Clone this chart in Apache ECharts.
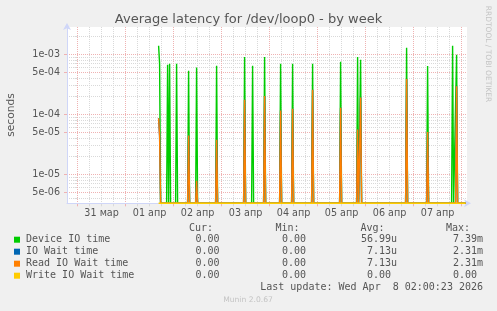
<!DOCTYPE html>
<html><head><meta charset="utf-8">
<script src="https://cdn.jsdelivr.net/npm/echarts@6/dist/echarts.min.js"></script>
<style>html,body{margin:0;padding:0;background:#f0f0f0}#c{width:497px;height:311px}</style>
</head><body><div id="c"></div>
<script>
// ---- data (hours since 31 Mar 00:00, 30-min samples) ----
const sampleHours = [40.5,41,41.5, 44.5,45,45.5,46,46.5, 49,49.5,50, 55,55.5,56, 59,59.5,60, 69,69.5,70,
  83,83.5,84, 87,87.5,88, 93,93.5,94, 101,101.5,102, 107,107.5,108, 117,117.5,118, 131,131.5,132,
  139.5,140,140.5,141,141.5,142, 164,164.5,165, 174.5,175,175.5, 187,187.5,188, 189,189.5,190, 194];
const deviceIOTime = [1.37e-3,6.9e-4,0, 0,6.6e-4,0,6.9e-4,0, 0,6.9e-4,0, 0,5.27e-4,0, 0,5.98e-4,0, 0,6.38e-4,0,
  0,8.9e-4,0, 0,6.38e-4,0, 0,8.9e-4,0, 0,6.9e-4,0, 0,6.9e-4,0, 0,6.9e-4,0, 0,7.44e-4,0,
  0,8.9e-4,0,0,8.0e-4,0, 0,1.27e-3,0, 0,6.3e-4,0, 0,1.37e-3,0, 0,9.7e-4,0, 0];
const readIOWaitTime = [8.5e-5,4.3e-5,0, 0,0,0,0,0, 0,0,0, 0,4.4e-5,0, 0,7.7e-6,0, 0,3.74e-5,0,
  0,1.73e-4,0, 0,0,0, 0,2.0e-4,0, 0,1.14e-4,0, 0,1.22e-4,0, 0,2.54e-4,0, 0,1.27e-4,0,
  0,5.5e-5,0,0,1.89e-4,0, 0,3.85e-4,0, 0,5e-5,0, 0,0,0, 0,2.9e-4,0, 0];
const ioWaitTime = [8.5e-5,4.3e-5,0, 0,0,0,0,0, 0,0,0, 0,4.4e-5,0, 0,7.7e-6,0, 0,3.74e-5,0,
  0,1.73e-4,0, 0,0,0, 0,2.0e-4,0, 0,1.14e-4,0, 0,1.22e-4,0, 0,2.54e-4,0, 0,1.27e-4,0,
  0,5.5e-5,0,0,1.89e-4,0, 0,3.85e-4,0, 0,5e-5,0, 0,0,0, 0,2.9e-4,0, 0];
const writeIOWaitTime = [0,0,0, 0,0,0,0,0, 0,0,0, 0,0,0, 0,0,0, 0,0,0,
  0,0,0, 0,0,0, 0,0,0, 0,0,0, 0,0,0, 0,0,0, 0,0,0,
  0,0,0,0,0,0, 0,0,0, 0,0,0, 0,0,0, 0,0,0, 0];

const seriesNames = ['Device IO time','IO Wait time','Read IO Wait time','Write IO Wait time'];
const seriesColors = ['#00cc00','#0066b3','#ff8000','#ffcc00'];
const statCur = ['0.00','0.00','0.00','0.00'];
const statMin = ['0.00','0.00','0.00','0.00'];
const statAvg = ['56.99u','7.13u','7.13u','0.00'];
const statMax = ['7.39m','2.31m','2.31m','0.00'];

const xLabelHours = [12,36,60,84,108,132,156,180];
const xLabels = ['31 мар','01 апр','02 апр','03 апр','04 апр','05 апр','06 апр','07 апр'];
const yTickValues = [5e-6,1e-5,5e-5,1e-4,5e-4,1e-3];
const yTickLabels = ['5e-06','1e-05','5e-05','1e-04','5e-04','1e-03'];

const titleText = 'Average latency for /dev/loop0 - by week';
const lastUpdate = 'Last update: Wed Apr  8 02:00:23 2026';

// ---- axis settings ----
const X_MIN = -5.3, X_MAX = 194.7;
const Y_MIN = 3.25e-6, Y_MAX = 2.82e-3;
const dayHours = [], sixHours = [], yMinor = [];
for (let h = -24; h <= 216; h += 6) {
  if (h < X_MIN || h > X_MAX) continue;
  if (h % 24 === 0) dayHours.push(h); else sixHours.push(h);
}
for (let e = -6; e <= -3; e++) for (const m of [2,3,4,6,7,8,9]) {
  const v = m * Math.pow(10, e);
  if (v > Y_MIN && v < Y_MAX) yMinor.push(v);
}
const RED = '#efb2b2', GRAY = '#d9d9d9', AXIS = '#CFD6F8', FONT = '#555';

function yLabel(v) {
  for (let i = 0; i < yTickValues.length; i++)
    if (Math.abs(Math.log10(v) - Math.log10(yTickValues[i])) < 1e-6) return yTickLabels[i];
  return '';
}
function xLabel(v) {
  const i = xLabelHours.findIndex(h => Math.abs(h - v) < 1e-6);
  return i >= 0 ? xLabels[i] : '';
}
function toPlot(vals) { return sampleHours.map((h, i) => [h, vals[i] > 0 ? vals[i] : Y_MIN]); }

const chart = echarts.init(document.getElementById('c'), null, {renderer: 'canvas'});
const xBase = {type: 'value', min: X_MIN, max: X_MAX, gridIndex: 0, position: 'bottom'};
const yBase = {type: 'log', logBase: 10, min: Y_MIN, max: Y_MAX, gridIndex: 0, position: 'left'};
const mono = 'DejaVu Sans Mono';

const graphics = [];
const cols = [['Cur:', 213, statCur, 225.5], ['Min:', 299.5, statMin, 312], ['Avg:', 384.5, statAvg, 397], ['Max:', 470, statMax, 483]];
cols.forEach(([hdr, hx, vals, vx]) => {
  graphics.push({type: 'text', x: hx, y: 228, style: {text: hdr, font: '10px "' + mono + '"', fill: FONT, align: 'right', verticalAlign: 'middle'}});
  vals.forEach((s, i) => {
    const txt = /[0-9]$/.test(s) ? s + ' ' : s;
    graphics.push({type: 'text', x: vx, y: 239.7 + 12 * i, style: {text: txt, font: '10px "' + mono + '"', fill: FONT, align: 'right', verticalAlign: 'middle'}});
  });
});
graphics.push({type: 'text', x: 483, y: 287.7, style: {text: lastUpdate, font: '10px "' + mono + '"', fill: FONT, align: 'right', verticalAlign: 'middle'}});
graphics.push({type: 'text', x: 248, y: 300, style: {text: 'Munin 2.0.67', font: '7.6px "DejaVu Sans"', fill: '#c4c4c4', align: 'center', verticalAlign: 'middle'}});
graphics.push({type: 'text', x: 488, y: 54, rotation: -Math.PI / 2, style: {text: 'RRDTOOL / TOBI OETIKER', font: '7.5px "DejaVu Sans"', fill: '#c4c4c4', align: 'center', verticalAlign: 'middle'}});
graphics.push({type: 'text', x: 11, y: 115, rotation: Math.PI / 2, style: {text: 'seconds', font: '10.7px "DejaVu Sans"', fill: FONT, align: 'center', verticalAlign: 'middle'}});

chart.setOption({
  animation: false,
  backgroundColor: '#f0f0f0',
  title: {text: titleText, left: 'center', top: 8, textStyle: {fontFamily: 'DejaVu Sans', fontSize: 13, fontWeight: 'normal', color: FONT}},
  grid: {left: 67, top: 27, width: 400, height: 176.3, show: true, backgroundColor: '#ffffff', borderWidth: 0},
  legend: {orient: 'vertical', left: 14, top: 233.7, padding: 0, itemWidth: 6, itemHeight: 6, itemGap: 0, icon: 'rect', selectedMode: false,
    data: seriesNames, textStyle: {fontFamily: mono, fontSize: 10, color: FONT, lineHeight: 12, padding: [0, 0, 0, 1]}},
  graphic: graphics,
  xAxis: [
    Object.assign({}, xBase, {z: 0, axisLine: {show: false}, axisLabel: {show: false},
      axisTick: {show: true, length: 3, customValues: sixHours, lineStyle: {color: GRAY}},
      splitLine: {show: true, lineStyle: {color: GRAY, type: [1, 1], width: 1}}}),
    Object.assign({}, xBase, {z: 1, axisLine: {show: false}, axisLabel: {show: false},
      axisTick: {show: true, length: 3, customValues: dayHours, lineStyle: {color: RED}},
      splitLine: {show: true, lineStyle: {color: RED, type: [1, 1], width: 1}}}),
    Object.assign({}, xBase, {z: 3,
      axisLine: {show: true, onZero: false, symbol: ['none', 'arrow'], symbolSize: [6, 7], symbolOffset: [0, 4], lineStyle: {color: AXIS, width: 1}},
      axisTick: {show: false}, splitLine: {show: false},
      axisLabel: {show: true, customValues: xLabelHours, formatter: xLabel, margin: 5, color: FONT, fontSize: 9.6, fontFamily: 'DejaVu Sans'}})
  ],
  yAxis: [
    Object.assign({}, yBase, {z: 0, axisLine: {show: false}, axisLabel: {show: false},
      axisTick: {show: true, length: 3, customValues: yMinor, lineStyle: {color: GRAY}},
      splitLine: {show: true, lineStyle: {color: GRAY, type: [1, 1], width: 1}}}),
    Object.assign({}, yBase, {z: 3,
      axisLine: {show: true, onZero: false, symbol: ['none', 'arrow'], symbolSize: [6, 7], symbolOffset: [0, 4], lineStyle: {color: AXIS, width: 1}},
      axisTick: {show: true, length: 3, customValues: yTickValues, lineStyle: {color: RED}},
      splitLine: {show: true, lineStyle: {color: RED, type: [1, 1], width: 1}},
      axisLabel: {show: true, customValues: yTickValues, formatter: yLabel, margin: 7, color: FONT, fontSize: 9.6, fontFamily: 'DejaVu Sans'}})
  ],
  series: [deviceIOTime, ioWaitTime, readIOWaitTime, writeIOWaitTime].map((vals, i) => ({
    name: seriesNames[i], type: 'line', xAxisIndex: 2, yAxisIndex: 1, data: toPlot(vals),
    color: seriesColors[i], showSymbol: false, symbol: 'none', clip: false, z: 5 + i,
    lineStyle: {color: seriesColors[i], width: 1.4}
  }))
});
</script>
</body></html>
